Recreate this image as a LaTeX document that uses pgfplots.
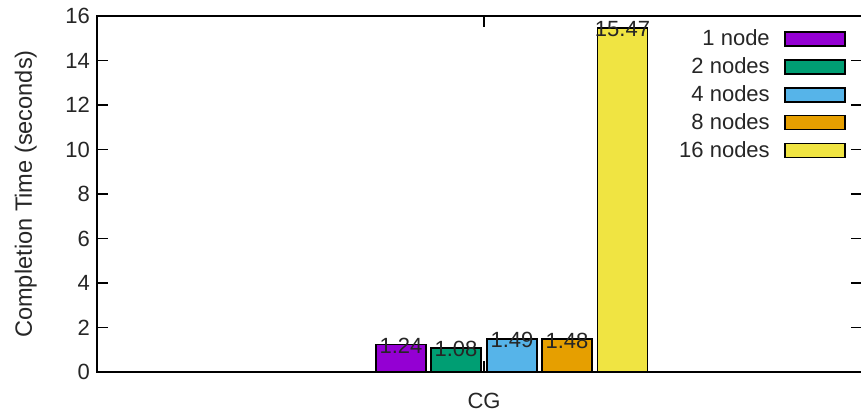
\documentclass[border=0pt]{standalone}
\usepackage{fontspec}
\setmainfont{Liberation Sans}
\usepackage{pgfplots}
\pgfplotsset{compat=1.18}
\definecolor{c1}{HTML}{9400D3}
\definecolor{c2}{HTML}{009E73}
\definecolor{c3}{HTML}{56B4E9}
\definecolor{c4}{HTML}{E69F00}
\definecolor{c5}{HTML}{F0E442}
\definecolor{txt}{HTML}{262626}
\pgfplotsset{
  mybar/.style={ybar, bar width=50, bar shift=0pt, draw=black, line width=0.75pt,
    legend image code/.code={\draw[##1, line width=0.75pt] (0pt,-3.5pt) rectangle (30pt,3.5pt);},
    nodes near coords, nodes near coords align={center},
    every node near coord/.append style={font=\fontsize{11}{13}\selectfont, text=txt, yshift=-0.7pt,
      /pgf/number format/.cd, fixed, fixed zerofill, precision=2}},
}
\begin{document}
\begin{tikzpicture}
\begin{axis}[
  at={(0,0)}, anchor=south west,
  scale only axis, width=382.5pt, height=178pt,
  xmin=97, xmax=862, ymin=0, ymax=16,
  ytick={0,2,...,16},
  xtick={484}, xticklabels={CG},
  tick align=inside, major tick length=5.5pt,
  axis line style={line width=0.75pt},
  every tick/.style={black, line width=0.75pt},
  font=\fontsize{11}{13}\selectfont,
  tick label style={text=txt},
  /pgf/number format/assume math mode=true,
  ylabel={Completion Time (seconds)},
  ylabel style={text=txt, font=\fontsize{11.8}{13}\selectfont, at={(axis description cs:0,0.5)}, anchor=base, yshift=32.5pt},
  xticklabel style={anchor=base, yshift=-18pt},
  legend plot pos=right,
  legend cell align=right,
  legend style={draw=none, fill=none, at={(0.987,0.985)}, anchor=north east,
    font=\fontsize{11}{13}\selectfont, text=txt, row sep=0.45pt,
    /tikz/column 1/.style={column sep=5.2pt}},
]
\addplot[mybar, fill=c1] coordinates {(401,1.24)};
\addlegendentry{1 node}
\addplot[mybar, fill=c2] coordinates {(456,1.08)};
\addlegendentry{2 nodes}
\addplot[mybar, fill=c3] coordinates {(512,1.49)};
\addlegendentry{4 nodes}
\addplot[mybar, fill=c4] coordinates {(567,1.48)};
\addlegendentry{8 nodes}
\addplot[mybar, fill=c5] coordinates {(622.5,15.47)};
\addlegendentry{16 nodes}
\end{axis}
\pgfresetboundingbox
\path[use as bounding box] (-48.5pt,-21pt) rectangle (382pt,186pt);
\end{tikzpicture}
\end{document}
